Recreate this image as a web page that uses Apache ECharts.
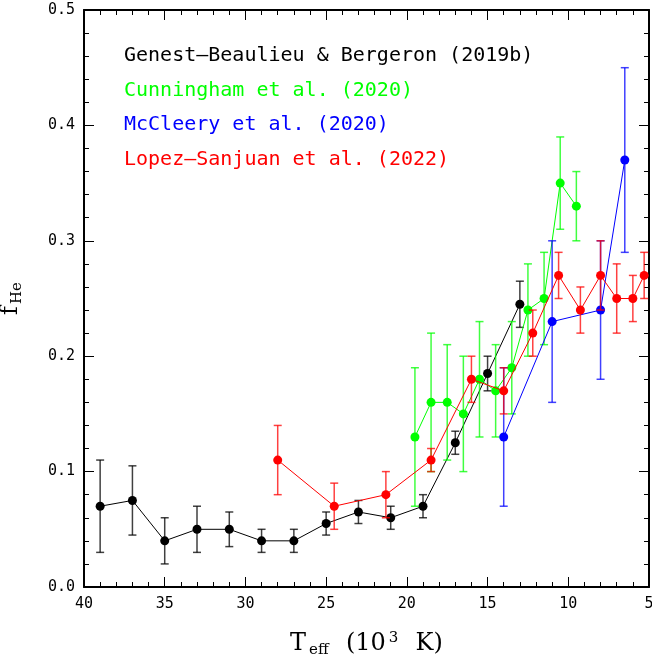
<!DOCTYPE html>
<html>
<head>
<meta charset="utf-8">
<script src="https://cdn.jsdelivr.net/npm/echarts@6/dist/echarts.min.js"></script>
<style>
html, body { margin: 0; padding: 0; background: #fff; }
#chart { width: 652px; height: 660px; }
</style>
</head>
<body>
<div id="chart"></div>
<script>
// Genest-Beaulieu & Bergeron (2019b)
const gbT   = [39, 37, 35, 33, 31, 29, 27, 25, 23, 21, 19, 17, 15, 13];
const gbF   = [0.07, 0.075, 0.04, 0.05, 0.05, 0.04, 0.04, 0.055, 0.065, 0.06, 0.07, 0.125, 0.185, 0.245];
const gbErr = [0.04, 0.03, 0.02, 0.02, 0.015, 0.01, 0.01, 0.01, 0.01, 0.01, 0.01, 0.01, 0.015, 0.02];

// Cunningham et al. (2020)
const cuT   = [19.5, 18.5, 17.5, 16.5, 15.5, 14.5, 13.5, 12.5, 11.5, 10.5, 9.5];
const cuF   = [0.13, 0.16, 0.16, 0.15, 0.18, 0.17, 0.19, 0.24, 0.25, 0.35, 0.33];
const cuErr = [0.06, 0.06, 0.05, 0.05, 0.05, 0.04, 0.04, 0.04, 0.04, 0.04, 0.03];

// McCleery et al. (2020)
const mcT   = [14, 11, 8, 6.5];
const mcF   = [0.13, 0.23, 0.24, 0.37];
const mcErr = [0.06, 0.07, 0.06, 0.08];

// Lopez-Sanjuan et al. (2022)
const lsT   = [28, 24.5, 21.3, 18.5, 16, 14, 12.2, 10.6, 9.25, 8, 7, 6, 5.3];
const lsF   = [0.11, 0.07, 0.08, 0.11, 0.18, 0.17, 0.22, 0.27, 0.24, 0.27, 0.25, 0.25, 0.27];
const lsErr = [0.03, 0.02, 0.02, 0.01, 0.02, 0.02, 0.02, 0.02, 0.02, 0.03, 0.03, 0.02, 0.02];

const legendNames = [
  'Genest\u2013Beaulieu & Bergeron (2019b)',
  'Cunningham et al. (2020)',
  'McCleery et al. (2020)',
  'Lopez\u2013Sanjuan et al. (2022)'
];
const colors = ['#000000', '#00ff00', '#0000ff', '#ff0000'];

const MONO = '"DejaVu Sans Mono", monospace';
const SERIF = '"DejaVu Serif", serif';

function pairs(xs, ys) { return xs.map((x, i) => [x, ys[i]]); }
function errRows(xs, ys, es) { return xs.map((x, i) => [x, ys[i] - es[i], ys[i] + es[i]]); }

// vertical error bar with small caps
function errorBarRenderer(color) {
  return function (params, api) {
    const lo = api.coord([api.value(0), api.value(1)]);
    const hi = api.coord([api.value(0), api.value(2)]);
    const cap = 4;
    const style = { stroke: color, lineWidth: 1.5, opacity: 0.75 };
    return {
      type: 'group',
      children: [
        { type: 'line', shape: { x1: lo[0], y1: lo[1], x2: hi[0], y2: hi[1] }, style },
        { type: 'line', shape: { x1: lo[0] - cap, y1: lo[1], x2: lo[0] + cap, y2: lo[1] }, style },
        { type: 'line', shape: { x1: hi[0] - cap, y1: hi[1], x2: hi[0] + cap, y2: hi[1] }, style }
      ]
    };
  };
}

function makeSeries(xs, ys, es, color, z) {
  return [
    {
      type: 'custom',
      renderItem: errorBarRenderer(color),
      data: errRows(xs, ys, es),
      encode: { x: 0, y: [1, 2] },
      z: z,
      silent: true
    },
    {
      type: 'line',
      data: pairs(xs, ys),
      symbol: 'circle',
      symbolSize: 9,
      itemStyle: { color: color },
      lineStyle: { color: color, width: 1 },
      z: z + 1,
      animation: false
    }
  ];
}

const axisCommon = {
  axisLine: { show: true, onZero: false, lineStyle: { color: '#000', width: 2 } },
  axisTick: { show: true, inside: true, length: 10, lineStyle: { color: '#000', width: 1 } },
  minorTick: { show: true, splitNumber: 5, length: 5, lineStyle: { color: '#000', width: 1 } },
  splitLine: { show: false },
  minorSplitLine: { show: false }
};

const xBase = Object.assign({}, axisCommon, {
  type: 'value', min: 5, max: 40, interval: 5, inverse: true
});
const yBase = Object.assign({}, axisCommon, {
  type: 'value', min: 0, max: 0.5, interval: 0.1
});

const chart = echarts.init(document.getElementById('chart'), null, { renderer: 'canvas' });

chart.setOption({
  animation: false,
  backgroundColor: '#fff',
  grid: { left: 84, right: 3, top: 10, bottom: 73, containLabel: false, outerBoundsMode: 'none' },
  xAxis: [
    Object.assign({}, xBase, {
      position: 'bottom',
      axisLabel: { color: '#000', fontFamily: MONO, fontSize: 15, margin: 10 },
      name: '{t|T}{s|eff}{t|  (10}{p|3}{t|  K)}',
      nameLocation: 'middle',
      nameGap: 42,
      nameTextStyle: {
        rich: {
          t: { fontFamily: SERIF, fontSize: 24, color: '#000', lineHeight: 30 },
          s: { fontFamily: SERIF, fontSize: 15, color: '#000', padding: [13, 2, 0, 3] },
          p: { fontFamily: SERIF, fontSize: 15, color: '#000', padding: [0, 2, 12, 3] }
        }
      }
    }),
    Object.assign({}, xBase, { position: 'top', axisLabel: { show: false } })
  ],
  yAxis: [
    Object.assign({}, yBase, {
      position: 'left',
      axisLabel: {
        color: '#000', fontFamily: MONO, fontSize: 15, margin: 9,
        formatter: v => v.toFixed(1)
      },
      name: '{t|f}{s|He}',
      nameLocation: 'middle',
      nameGap: 58,
      nameRotate: 90,
      nameTextStyle: {
        rich: {
          t: { fontFamily: SERIF, fontSize: 24, color: '#000', lineHeight: 30 },
          s: { fontFamily: SERIF, fontSize: 15, color: '#000', padding: [13, 0, 0, 2] }
        }
      }
    }),
    Object.assign({}, yBase, { position: 'right', axisLabel: { show: false } })
  ],
  graphic: legendNames.map((name, i) => ({
    type: 'text',
    x: 124,
    y: 56 + i * 34.5,
    style: {
      text: name,
      fill: colors[i],
      font: '20px ' + MONO,
      verticalAlign: 'middle',
      align: 'left'
    },
    z: 100
  })),
  series: [].concat(
    makeSeries(gbT, gbF, gbErr, colors[0], 10),
    makeSeries(cuT, cuF, cuErr, colors[1], 20),
    makeSeries(mcT, mcF, mcErr, colors[2], 30),
    makeSeries(lsT, lsF, lsErr, colors[3], 40)
  )
});
</script>
</body>
</html>
